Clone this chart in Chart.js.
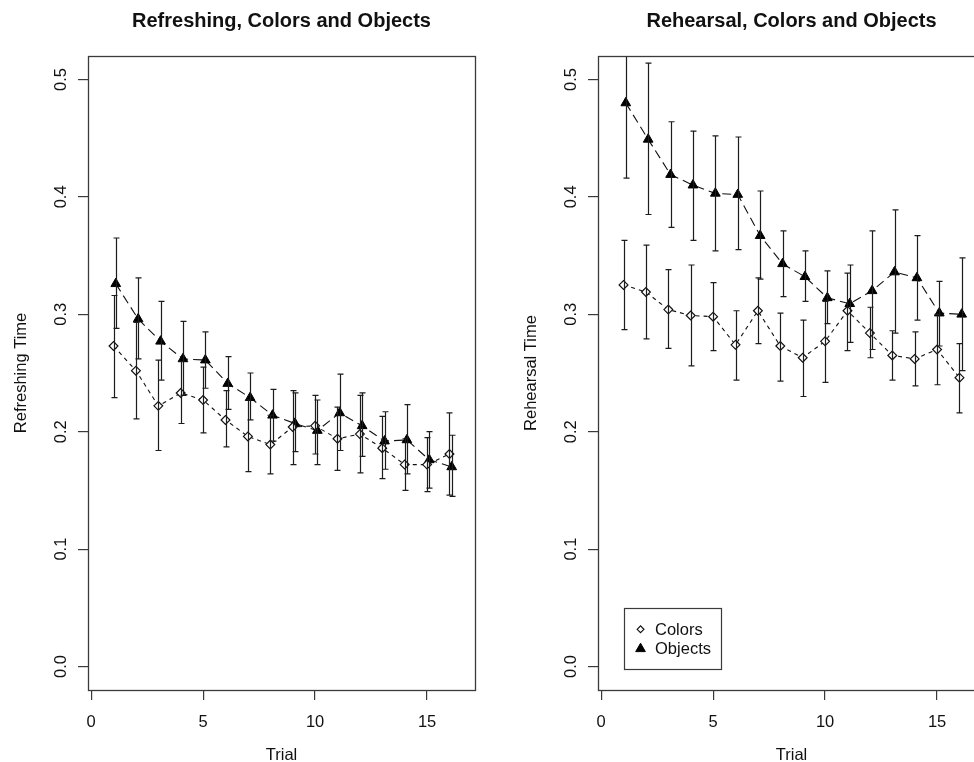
<!DOCTYPE html>
<html>
<head>
<meta charset="utf-8">
<script src="https://cdn.jsdelivr.net/npm/chart.js@4.4.1/dist/chart.umd.min.js"></script>
<style>
  html, body { margin: 0; padding: 0; background: #ffffff; overflow: hidden; width: 974px; height: 762px; }
  .panel { position: absolute; top: 0; width: 510px; height: 762px; }
  #p1 { left: 0; }
  #p2 { left: 510px; }
</style>
</head>
<body>
<div class="panel" id="p1"><canvas id="c1" width="510" height="762"></canvas></div>
<div class="panel" id="p2"><canvas id="c2" width="510" height="762"></canvas></div>
<script>
// ---- data ----
const trials = [1, 2, 3, 4, 5, 6, 7, 8, 9, 10, 11, 12, 13, 14, 15, 16];
const objectsShift = 0.1;               // objects are drawn slightly right of colors
const xTicks = [0, 5, 10, 15];
const yTicks = [0.0, 0.1, 0.2, 0.3, 0.4, 0.5];

// Refreshing time
const refColorsMean  = [0.273, 0.252, 0.222, 0.233, 0.227, 0.210, 0.196, 0.189, 0.204, 0.205, 0.194, 0.198, 0.186, 0.172, 0.172, 0.181];
const refColorsLow   = [0.229, 0.211, 0.184, 0.207, 0.199, 0.187, 0.166, 0.164, 0.172, 0.181, 0.167, 0.165, 0.160, 0.150, 0.149, 0.146];
const refColorsHigh  = [0.316, 0.293, 0.261, 0.260, 0.255, 0.235, 0.227, 0.214, 0.235, 0.231, 0.221, 0.231, 0.213, 0.194, 0.195, 0.216];
const refObjectsMean = [0.326, 0.296, 0.277, 0.262, 0.261, 0.241, 0.229, 0.214, 0.207, 0.201, 0.216, 0.205, 0.192, 0.193, 0.176, 0.170];
const refObjectsLow  = [0.288, 0.262, 0.244, 0.231, 0.237, 0.219, 0.210, 0.192, 0.183, 0.172, 0.184, 0.179, 0.168, 0.164, 0.152, 0.145];
const refObjectsHigh = [0.365, 0.331, 0.311, 0.294, 0.285, 0.264, 0.250, 0.236, 0.233, 0.227, 0.249, 0.233, 0.217, 0.223, 0.200, 0.197];

// Rehearsal time
const rehColorsMean  = [0.325, 0.319, 0.304, 0.299, 0.298, 0.274, 0.303, 0.273, 0.263, 0.277, 0.303, 0.284, 0.265, 0.262, 0.270, 0.246];
const rehColorsLow   = [0.287, 0.279, 0.271, 0.256, 0.269, 0.244, 0.275, 0.243, 0.230, 0.242, 0.269, 0.263, 0.244, 0.239, 0.240, 0.216];
const rehColorsHigh  = [0.363, 0.359, 0.338, 0.342, 0.327, 0.303, 0.331, 0.301, 0.295, 0.311, 0.335, 0.306, 0.286, 0.285, 0.300, 0.275];
const rehObjectsMean = [0.480, 0.449, 0.419, 0.410, 0.403, 0.402, 0.367, 0.343, 0.332, 0.314, 0.309, 0.320, 0.336, 0.331, 0.301, 0.300];
const rehObjectsLow  = [0.416, 0.385, 0.374, 0.363, 0.354, 0.355, 0.330, 0.315, 0.311, 0.292, 0.276, 0.270, 0.284, 0.295, 0.273, 0.252];
const rehObjectsHigh = [0.544, 0.514, 0.464, 0.456, 0.452, 0.451, 0.405, 0.371, 0.354, 0.337, 0.342, 0.371, 0.389, 0.367, 0.328, 0.348];

// legend anchor (top-left corner, in data units)
const legendAnchor = { x: 1, y: 0.05 };

// ---- drawing helpers ----
const INK = '#111111';
const FRAME = '#3a3a3a';
const FONT = '"Liberation Sans", Arial, Helvetica, sans-serif';

function pts(xs, ys, shift) {
  return xs.map((x, i) => ({ x: x + shift, y: ys[i] }));
}

function colorsSet(mean, lo, hi) {
  return {
    label: 'Colors',
    data: pts(trials, mean, 0),
    errLow: lo, errHigh: hi,
    borderColor: INK, borderWidth: 1.1, borderDash: [4, 4],
    pointStyle: 'rectRot', pointRadius: 4.4, pointBorderWidth: 1.2,
    pointBackgroundColor: '#ffffff', pointBorderColor: INK,
    legendRadius: 3.4,
    tension: 0
  };
}
function objectsSet(mean, lo, hi) {
  return {
    label: 'Objects',
    data: pts(trials, mean, objectsShift),
    errLow: lo, errHigh: hi,
    borderColor: INK, borderWidth: 1.1, borderDash: [9, 5],
    pointStyle: 'triangle', pointRadius: 5.6, pointBorderWidth: 1,
    pointBackgroundColor: '#000000', pointBorderColor: '#000000',
    legendRadius: 5.6,
    tension: 0
  };
}

function drawMarker(ctx, ds, x, y, r) {
  ctx.save();
  ctx.fillStyle = ds.pointBackgroundColor;
  ctx.strokeStyle = ds.pointBorderColor;
  ctx.lineWidth = ds.pointBorderWidth;
  ctx.setLineDash([]);
  if (Chart.helpers && Chart.helpers.drawPoint) {
    Chart.helpers.drawPoint(ctx, { pointStyle: ds.pointStyle, radius: r, rotation: 0, borderWidth: ds.pointBorderWidth }, x, y);
  }
  ctx.restore();
}

// frame, error bars, tick labels, titles and legend in the base-graphics look
const basePlot = {
  id: 'basePlot',
  afterDatasetsDraw(chart, args, opts) {
    const { ctx, chartArea: a, scales: { x, y } } = chart;
    // error bars with flat caps
    ctx.save();
    ctx.beginPath();
    ctx.rect(a.left, a.top, a.right - a.left, a.bottom - a.top);
    ctx.clip();
    ctx.strokeStyle = '#1c1c1c';
    ctx.lineWidth = 1.2;
    ctx.setLineDash([]);
    chart.data.datasets.forEach(ds => {
      ds.data.forEach((p, i) => {
        const px = Math.round(x.getPixelForValue(p.x)) + 0.5;
        const yl = y.getPixelForValue(ds.errLow[i]);
        const yh = y.getPixelForValue(ds.errHigh[i]);
        ctx.beginPath();
        ctx.moveTo(px, yl); ctx.lineTo(px, yh);
        ctx.moveTo(px - 3, yl); ctx.lineTo(px + 3, yl);
        ctx.moveTo(px - 3, yh); ctx.lineTo(px + 3, yh);
        ctx.stroke();
      });
    });
    ctx.restore();
  },
  afterDraw(chart, args, opts) {
    const { ctx, chartArea: a, scales: { x, y } } = chart;
    ctx.save();
    // box around the plotting region
    ctx.strokeStyle = FRAME;
    ctx.lineWidth = 1.3;
    ctx.strokeRect(Math.round(a.left) + 0.5, Math.round(a.top) + 0.5,
                   Math.round(a.right - a.left), Math.round(a.bottom - a.top));

    ctx.fillStyle = INK;
    // x tick labels
    ctx.font = '16.5px ' + FONT;
    ctx.textAlign = 'center';
    ctx.textBaseline = 'alphabetic';
    xTicks.forEach(v => ctx.fillText(String(v), x.getPixelForValue(v), a.bottom + 37));
    // x title
    ctx.fillText(opts.xTitle, (a.left + a.right) / 2, a.bottom + 70);
    // y tick labels (parallel to the axis)
    yTicks.forEach(v => {
      ctx.save();
      ctx.translate(a.left - 22.5, y.getPixelForValue(v));
      ctx.rotate(-Math.PI / 2);
      ctx.fillText(v.toFixed(1), 0, 0);
      ctx.restore();
    });
    // y title
    ctx.save();
    ctx.translate(a.left - 62, (a.top + a.bottom) / 2);
    ctx.rotate(-Math.PI / 2);
    ctx.fillText(opts.yTitle, 0, 0);
    ctx.restore();
    // main title
    ctx.font = 'bold 20px ' + FONT;
    ctx.fillText(opts.title, (a.left + a.right) / 2, a.top - 29);

    // legend
    if (opts.legend) {
      const lx = x.getPixelForValue(legendAnchor.x);
      const ly = y.getPixelForValue(legendAnchor.y);
      const w = 97, h = 61;
      ctx.strokeStyle = FRAME;
      ctx.lineWidth = 1.2;
      ctx.strokeRect(Math.round(lx) + 0.5, Math.round(ly) + 0.5, w, h);
      ctx.font = '16.5px ' + FONT;
      ctx.textAlign = 'left';
      ctx.textBaseline = 'middle';
      chart.data.datasets.forEach((ds, i) => {
        const cy = ly + 21.5 + i * 19.5;
        drawMarker(ctx, ds, lx + 17, cy, ds.legendRadius);
        ctx.fillStyle = INK;
        ctx.fillText(ds.label, lx + 31.5, cy + 1);
      });
    }
    ctx.restore();
  }
};

function axisCommon(min, max, ticks) {
  return {
    type: 'linear', min, max,
    afterBuildTicks: s => { s.ticks = ticks.map(v => ({ value: v })); },
    ticks: { display: false },
    grid: { drawOnChartArea: false, drawTicks: true, tickLength: 10, color: FRAME, lineWidth: 1.2 },
    border: { display: false }
  };
}

function makeChart(id, title, yTitle, sets, legend) {
  const xAxis = axisCommon(-0.14, 17.14, xTicks);
  xAxis.afterFit = s => { s.height = 72; };
  const yAxis = axisCommon(-0.02, 0.52, yTicks);
  yAxis.afterFit = s => { s.width = 88; };
  return new Chart(document.getElementById(id), {
    type: 'line',
    data: { datasets: sets },
    options: {
      responsive: false,
      animation: false,
      devicePixelRatio: 1,
      parsing: false,
      layout: { padding: { left: 0, right: 35, top: 56, bottom: 0 } },
      scales: { x: xAxis, y: yAxis },
      plugins: {
        legend: { display: false },
        tooltip: { enabled: false },
        basePlot: { title, yTitle, xTitle: 'Trial', legend }
      }
    },
    plugins: [basePlot]
  });
}

makeChart('c1', 'Refreshing, Colors and Objects', 'Refreshing Time', [
  colorsSet(refColorsMean, refColorsLow, refColorsHigh),
  objectsSet(refObjectsMean, refObjectsLow, refObjectsHigh)
], false);

makeChart('c2', 'Rehearsal, Colors and Objects', 'Rehearsal Time', [
  colorsSet(rehColorsMean, rehColorsLow, rehColorsHigh),
  objectsSet(rehObjectsMean, rehObjectsLow, rehObjectsHigh)
], true);
</script>
</body>
</html>
